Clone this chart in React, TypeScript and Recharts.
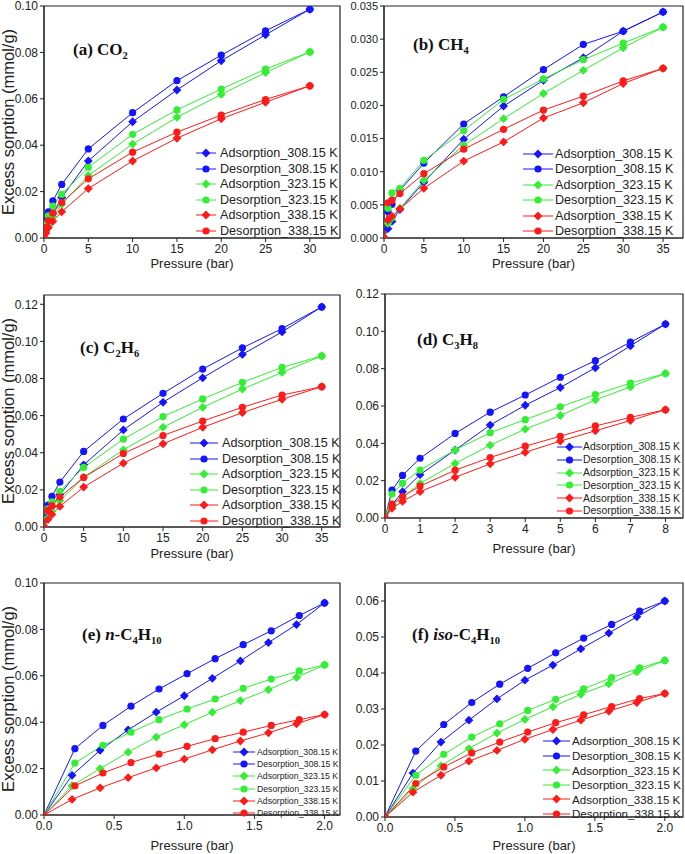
import React from "react";
import { LineChart, Line, XAxis, YAxis, ReferenceArea } from "recharts";

// pressures (bar)
const pCO2 = [0, 0.2, 0.5, 1, 2, 5, 10, 15, 20, 25, 30];
const pHigh = [0, 0.5, 1, 2, 5, 10, 15, 20, 25, 30, 35];
const pC3H8 = [0, 0.2, 0.5, 1, 2, 3, 4, 5, 6, 7, 8];
const pButAds = [0, 0.2, 0.4, 0.6, 0.8, 1.0, 1.2, 1.4, 1.6, 1.8, 2.0];
const pButDes = [0, 0.22, 0.42, 0.62, 0.82, 1.02, 1.22, 1.42, 1.62, 1.82, 2.0];

// (a) CO2
const co2Ads308 = [0, 0.003, 0.006, 0.0105, 0.0175, 0.0332, 0.0501, 0.0638, 0.0764, 0.0876, 0.0986];
const co2Des308 = [0, 0.0075, 0.0113, 0.016, 0.0231, 0.0384, 0.054, 0.0678, 0.0788, 0.0893, 0.0986];
const co2Ads323 = [0, 0.0025, 0.0055, 0.009, 0.0145, 0.0269, 0.0405, 0.052, 0.0619, 0.0713, 0.0802];
const co2Des323 = [0, 0.006, 0.0095, 0.0138, 0.0188, 0.0305, 0.0447, 0.0552, 0.0642, 0.0728, 0.0802];
const co2Ads338 = [0, 0.002, 0.0045, 0.0072, 0.0113, 0.0213, 0.0332, 0.043, 0.0514, 0.0585, 0.0656];
const co2Des338 = [0, 0.0045, 0.0075, 0.0107, 0.0153, 0.0255, 0.037, 0.0456, 0.053, 0.0597, 0.0656];

// (b) CH4
const ch4Ads308 = [0, 0.0014, 0.0025, 0.0043, 0.0084, 0.0149, 0.0199, 0.0238, 0.0272, 0.0312, 0.0341];
const ch4Des308 = [0, 0.004, 0.0051, 0.0072, 0.0113, 0.0172, 0.0213, 0.0254, 0.0292, 0.0312, 0.0341];
const ch4Ads323 = [0, 0.0022, 0.003, 0.0045, 0.0087, 0.014, 0.018, 0.0218, 0.0253, 0.0287, 0.0318];
const ch4Des323 = [0, 0.0045, 0.0068, 0.0075, 0.0117, 0.0162, 0.0209, 0.024, 0.0269, 0.0294, 0.0318];
const ch4Ads338 = [0, 0.0027, 0.0033, 0.0044, 0.0075, 0.0116, 0.0145, 0.0181, 0.0204, 0.0233, 0.0256];
const ch4Des338 = [0, 0.0053, 0.0057, 0.0067, 0.0097, 0.0134, 0.0164, 0.0193, 0.0214, 0.0237, 0.0256];

// (c) C2H6
const c2Ads308 = [0, 0.006, 0.011, 0.0175, 0.0335, 0.0523, 0.0672, 0.0804, 0.093, 0.1051, 0.1186];
const c2Des308 = [0, 0.0118, 0.0165, 0.0242, 0.0407, 0.0582, 0.072, 0.0851, 0.0965, 0.1069, 0.1186];
const c2Ads323 = [0, 0.005, 0.0085, 0.0141, 0.0268, 0.0416, 0.0537, 0.0645, 0.0743, 0.0833, 0.0922];
const c2Des323 = [0, 0.0098, 0.0135, 0.0192, 0.0321, 0.0473, 0.0595, 0.069, 0.0779, 0.086, 0.0922];
const c2Ads338 = [0, 0.004, 0.0068, 0.0111, 0.0215, 0.0344, 0.0448, 0.0537, 0.0616, 0.0688, 0.0756];
const c2Des338 = [0, 0.009, 0.0115, 0.0161, 0.0267, 0.0396, 0.0493, 0.0571, 0.0645, 0.0711, 0.0756];

// (d) C3H8
const c3Ads308 = [0, 0.007, 0.0141, 0.0232, 0.0364, 0.0498, 0.0604, 0.0699, 0.0805, 0.0922, 0.1039];
const c3Des308 = [0, 0.0149, 0.0228, 0.032, 0.0453, 0.0567, 0.0659, 0.0754, 0.0843, 0.0942, 0.1039];
const c3Ads323 = [0, 0.006, 0.011, 0.0185, 0.0292, 0.039, 0.0476, 0.0549, 0.0633, 0.0702, 0.0774];
const c3Des323 = [0, 0.0128, 0.0186, 0.0257, 0.0364, 0.0457, 0.0527, 0.0596, 0.0661, 0.0723, 0.0774];
const c3Ads338 = [0, 0.0052, 0.0089, 0.0141, 0.0218, 0.029, 0.0352, 0.0412, 0.0467, 0.0522, 0.058];
const c3Des338 = [0, 0.0074, 0.0115, 0.0171, 0.0256, 0.0324, 0.0385, 0.0438, 0.0493, 0.0539, 0.058];

// (e) n-C4H10
const nbAds308 = [0, 0.0171, 0.0279, 0.0367, 0.0443, 0.0514, 0.0589, 0.0664, 0.0743, 0.0821, 0.0914];
const nbDes308 = [0, 0.0286, 0.0386, 0.0469, 0.0543, 0.0609, 0.0674, 0.0734, 0.0794, 0.086, 0.0914];
const nbAds323 = [0, 0.0126, 0.02, 0.0271, 0.0336, 0.0389, 0.0443, 0.0493, 0.054, 0.0593, 0.0647];
const nbDes323 = [0, 0.0224, 0.03, 0.0357, 0.0411, 0.0457, 0.05, 0.0546, 0.0586, 0.0621, 0.0647];
const nbAds338 = [0, 0.0067, 0.0117, 0.0161, 0.0203, 0.0241, 0.0281, 0.0319, 0.0354, 0.0393, 0.0433];
const nbDes338 = [0, 0.0126, 0.0181, 0.0226, 0.0263, 0.0296, 0.0329, 0.0357, 0.0386, 0.0411, 0.0433];

// (f) iso-C4H10
const ibAds308 = [0, 0.0122, 0.0208, 0.0269, 0.0328, 0.038, 0.0422, 0.0467, 0.0511, 0.0556, 0.06];
const ibDes308 = [0, 0.0183, 0.0257, 0.0318, 0.0369, 0.0413, 0.0456, 0.0497, 0.0535, 0.0572, 0.06];
const ibAds323 = [0, 0.0079, 0.0142, 0.019, 0.0233, 0.0271, 0.0306, 0.0341, 0.037, 0.0403, 0.0435];
const ibDes323 = [0, 0.0116, 0.0174, 0.0222, 0.0259, 0.0296, 0.0327, 0.0356, 0.0387, 0.0414, 0.0435];
const ibAds338 = [0, 0.0069, 0.0116, 0.0155, 0.0185, 0.0216, 0.0243, 0.0269, 0.0294, 0.0318, 0.0343];
const ibDes338 = [0, 0.0093, 0.0139, 0.0178, 0.0208, 0.0236, 0.0262, 0.0284, 0.0307, 0.0329, 0.0343];

// tick labels
const xTicks30 = [0, 5, 10, 15, 20, 25, 30];
const xTicks35 = [0, 5, 10, 15, 20, 25, 30, 35];
const xTicks8 = [0, 1, 2, 3, 4, 5, 6, 7, 8];
const xTicks2 = [0, 0.5, 1, 1.5, 2];
const yTicks10 = [0, 0.02, 0.04, 0.06, 0.08, 0.1];
const yTicks035 = [0, 0.005, 0.01, 0.015, 0.02, 0.025, 0.03, 0.035];
const yTicks12 = [0, 0.02, 0.04, 0.06, 0.08, 0.1, 0.12];
const yTicks06 = [0, 0.01, 0.02, 0.03, 0.04, 0.05, 0.06];

const seriesLabels = [
  "Adsorption_308.15 K",
  "Desorption_308.15 K",
  "Adsorption_323.15 K",
  "Desorption_323.15 K",
  "Adsorption_338.15 K",
  "Desorption_338.15 K",
];
const seriesColors = ["#1414ff", "#1414ff", "#33ee33", "#33ee33", "#ff1a1a", "#ff1a1a"];
const seriesShapes = ["diamond", "circle", "diamond", "circle", "diamond", "circle"];

const sans = "'Liberation Sans', Arial, sans-serif";
const serif = "'Liberation Serif', 'Times New Roman', serif";

const zip = (p: number[], v: number[]) => p.map((x, i) => ({ p: x, v: v[i] }));

const Marker = ({ cx, cy, shape, color }: any) =>
  shape === "circle" ? (
    <circle cx={cx} cy={cy} r={3.6} fill={color} />
  ) : (
    <polygon
      points={`${cx},${cy - 4.4} ${cx + 4.4},${cy} ${cx},${cy + 4.4} ${cx - 4.4},${cy}`}
      fill={color}
    />
  );

const dotFor = (i: number) => (props: any) => {
  const { cx, cy, index } = props;
  if (cx == null || cy == null) return <g key={`d-${index}`} />;
  return (
    <g key={`d-${index}`}>
      <Marker cx={cx} cy={cy} shape={seriesShapes[i]} color={seriesColors[i]} />
    </g>
  );
};

const Sub = ({ children }: any) => (
  <sub style={{ fontSize: "0.62em", verticalAlign: "-0.35em", lineHeight: 0 }}>{children}</sub>
);

const panels = [
  {
    left: 0, top: 0, width: 343, height: 285,
    margin: { top: 6, right: 3, left: 0, bottom: 17 }, yWidth: 44, xHeight: 30,
    xDomain: [0, 33.4], yDomain: [0, 0.1], xTicks: xTicks30, yTicks: yTicks10, xDigits: 0, yDigits: 2,
    yTitle: true,
    series: [zip(pCO2, co2Ads308), zip(pCO2, co2Des308), zip(pCO2, co2Ads323), zip(pCO2, co2Des323), zip(pCO2, co2Ads338), zip(pCO2, co2Des338)],
    title: <>(a) CO<Sub>2</Sub></>, titleX: 73, titleY: 50,
    legend: { x: 196, y: 153, gap: 15.5, font: 12.6, line: 20, text: 24 },
  },
  {
    left: 343, top: 0, width: 342, height: 285,
    margin: { top: 6, right: 2, left: 0, bottom: 17 }, yWidth: 41, xHeight: 30,
    xDomain: [0, 37.5], yDomain: [0, 0.035], xTicks: xTicks35, yTicks: yTicks035, xDigits: 0, yDigits: 3,
    yTitle: false,
    series: [zip(pHigh, ch4Ads308), zip(pHigh, ch4Des308), zip(pHigh, ch4Ads323), zip(pHigh, ch4Des323), zip(pHigh, ch4Ads338), zip(pHigh, ch4Des338)],
    title: <>(b) CH<Sub>4</Sub></>, titleX: 413, titleY: 45,
    legend: { x: 523, y: 154, gap: 15.4, font: 12.6, line: 30, text: 32 },
  },
  {
    left: 0, top: 285, width: 343, height: 285,
    margin: { top: 10, right: 3, left: 0, bottom: 12 }, yWidth: 44, xHeight: 31,
    xDomain: [0, 37.3], yDomain: [0, 0.125], xTicks: xTicks35, yTicks: yTicks12, xDigits: 0, yDigits: 2,
    yTitle: true,
    series: [zip(pHigh, c2Ads308), zip(pHigh, c2Des308), zip(pHigh, c2Ads323), zip(pHigh, c2Des323), zip(pHigh, c2Ads338), zip(pHigh, c2Des338)],
    title: <>(c) C<Sub>2</Sub>H<Sub>6</Sub></>, titleX: 80, titleY: 348,
    legend: { x: 190, y: 443, gap: 15.6, font: 12.6, line: 28, text: 32 },
  },
  {
    left: 343, top: 285, width: 342, height: 285,
    margin: { top: 9, right: 2, left: 0, bottom: 17 }, yWidth: 42, xHeight: 35,
    xDomain: [0, 8.5], yDomain: [0, 0.12], xTicks: xTicks8, yTicks: yTicks12, xDigits: 0, yDigits: 2,
    yTitle: false,
    series: [zip(pC3H8, c3Ads308), zip(pC3H8, c3Des308), zip(pC3H8, c3Ads323), zip(pC3H8, c3Des323), zip(pC3H8, c3Ads338), zip(pC3H8, c3Des338)],
    title: <>(d) C<Sub>3</Sub>H<Sub>8</Sub></>, titleX: 417, titleY: 340,
    legend: { x: 557, y: 447, gap: 12.8, font: 10.4, line: 25, text: 26 },
  },
  {
    left: 0, top: 570, width: 343, height: 284,
    margin: { top: 13, right: 3, left: 0, bottom: 4 }, yWidth: 44, xHeight: 35,
    xDomain: [0, 2.11], yDomain: [0, 0.1], xTicks: xTicks2, yTicks: yTicks10, xDigits: 1, yDigits: 2,
    yTitle: true,
    series: [zip(pButAds, nbAds308), zip(pButDes, nbDes308), zip(pButAds, nbAds323), zip(pButDes, nbDes323), zip(pButAds, nbAds338), zip(pButDes, nbDes338)],
    title: <>(e) <i>n</i>-C<Sub>4</Sub>H<Sub>10</Sub></>, titleX: 82, titleY: 635,
    legend: { x: 233, y: 752, gap: 12.2, font: 8.7, line: 22, text: 24 },
  },
  {
    left: 343, top: 570, width: 342, height: 284,
    margin: { top: 13, right: 2, left: 0, bottom: 4 }, yWidth: 42, xHeight: 33,
    xDomain: [0, 2.13], yDomain: [0, 0.065], xTicks: xTicks2, yTicks: yTicks06, xDigits: 1, yDigits: 2,
    yTitle: false,
    series: [zip(pButAds, ibAds308), zip(pButDes, ibDes308), zip(pButAds, ibAds323), zip(pButDes, ibDes323), zip(pButAds, ibAds338), zip(pButDes, ibDes338)],
    title: <>(f) <i>iso</i>-C<Sub>4</Sub>H<Sub>10</Sub></>, titleX: 412, titleY: 635,
    legend: { x: 543, y: 741, gap: 14.6, font: 11.6, line: 27, text: 29 },
  },
];

function Panel({ cfg }: any) {
  const tickStyle = { fontSize: 12, fill: "#222", fontFamily: sans };
  return (
    <div style={{ position: "absolute", left: cfg.left, top: cfg.top }}>
      <LineChart width={cfg.width} height={cfg.height} margin={cfg.margin}>
        <XAxis
          type="number"
          dataKey="p"
          domain={cfg.xDomain}
          ticks={cfg.xTicks}
          allowDataOverflow
          interval={0}
          tickFormatter={(v: number) => v.toFixed(cfg.xDigits)}
          tick={tickStyle}
          tickSize={4}
          stroke="#222"
          height={cfg.xHeight}
          label={{
            value: "Pressure (bar)",
            position: "insideBottom",
            offset: 0,
            style: { fontSize: 13, fill: "#222", fontFamily: sans },
          }}
        />
        <YAxis
          type="number"
          domain={cfg.yDomain}
          ticks={cfg.yTicks}
          allowDataOverflow
          interval={0}
          tickFormatter={(v: number) => v.toFixed(cfg.yDigits)}
          tick={{ ...tickStyle, fontSize: cfg.yDigits === 3 ? 11 : 12 }}
          tickSize={4}
          stroke="#222"
          width={cfg.yWidth}
          label={
            cfg.yTitle
              ? {
                  value: "Excess sorption (mmol/g)",
                  angle: -90,
                  position: "insideLeft",
                  offset: 8,
                  style: { fontSize: 16.5, fill: "#222", fontFamily: sans, textAnchor: "middle" },
                }
              : undefined
          }
        />
        <ReferenceArea
          x1={0}
          x2={cfg.xDomain[1]}
          y1={0}
          y2={cfg.yDomain[1]}
          fill="none"
          stroke="#222"
          strokeWidth={1.2}
          ifOverflow="visible"
        />
        {cfg.series.map((s: any, i: number) => (
          <Line
            key={i}
            data={s}
            dataKey="v"
            type="linear"
            stroke={seriesColors[i]}
            strokeWidth={1}
            dot={dotFor(i)}
            activeDot={false}
            isAnimationActive={false}
          />
        ))}
      </LineChart>
    </div>
  );
}

function LegendBox({ cfg }: any) {
  const L = cfg.legend;
  return (
    <div
      style={{
        position: "absolute",
        left: L.x,
        top: L.y - L.gap / 2,
        fontFamily: sans,
        fontSize: L.font,
        color: "#222",
      }}
    >
      {seriesLabels.map((lab, i) => (
        <div key={lab} style={{ display: "flex", alignItems: "center", height: L.gap, whiteSpace: "nowrap" }}>
          <svg width={L.text} height={10} style={{ flex: "none" }}>
            <line x1={0} y1={5} x2={L.line} y2={5} stroke={seriesColors[i]} strokeWidth={1} />
            <Marker cx={L.line / 2} cy={5} shape={seriesShapes[i]} color={seriesColors[i]} />
          </svg>
          <span>{lab}</span>
        </div>
      ))}
    </div>
  );
}

export default function App() {
  return (
    <div style={{ position: "absolute", left: 0, top: 0, width: 685, height: 854, background: "#fff" }}>
      {panels.map((cfg, i) => (
        <Panel key={i} cfg={cfg} />
      ))}
      {panels.map((cfg, i) => (
        <LegendBox key={`l${i}`} cfg={cfg} />
      ))}
      {panels.map((cfg, i) => (
        <div
          key={`t${i}`}
          style={{
            position: "absolute",
            left: cfg.titleX,
            top: cfg.titleY - 11,
            lineHeight: "22px",
            fontFamily: serif,
            fontWeight: "bold",
            fontSize: 17,
            color: "#111",
            whiteSpace: "nowrap",
          }}
        >
          {cfg.title}
        </div>
      ))}
    </div>
  );
}
